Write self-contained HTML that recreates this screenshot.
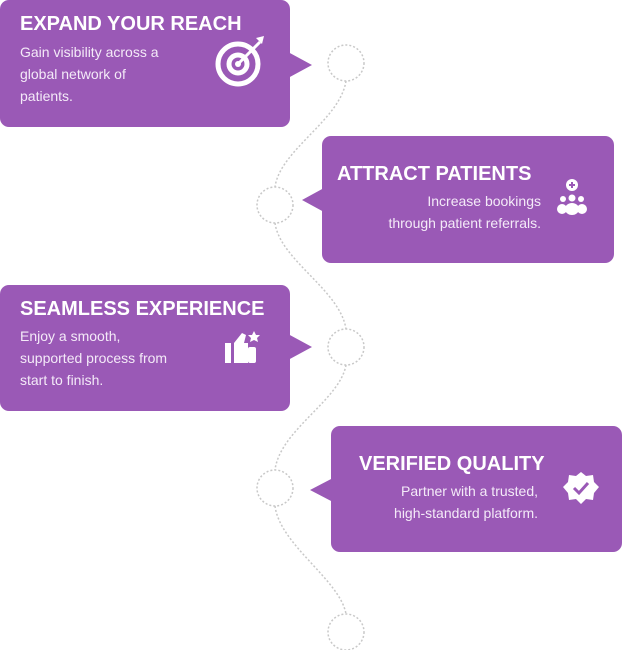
<!DOCTYPE html>
<html><head><style>
body{margin:0;width:622px;height:650px;background:#fff;position:relative;font-family:"Liberation Sans",sans-serif;overflow:hidden}
.b{position:absolute;background:#9a59b6;border-radius:9px;color:#fff}
.t{position:absolute;font-weight:bold;font-size:20px;white-space:nowrap}
.d{position:absolute;font-size:14px;line-height:22px;color:#f4eaf8;white-space:nowrap}
svg{position:absolute;left:0;top:0}
</style></head><body>
<svg width="622" height="650">
<g fill="none" stroke="#c8c8c8" stroke-width="1.5" stroke-dasharray="2 2">
<path d="M346 81 C340 120 280 150 275 187"/>
<path d="M275 223 C280 260 340 290 346 329"/>
<path d="M346 365 C340 400 280 430 275 470"/>
<path d="M275 506 C280 545 340 580 346 614"/>
<circle cx="346" cy="63" r="18"/><circle cx="275" cy="205" r="18"/>
<circle cx="346" cy="347" r="18"/><circle cx="275" cy="488" r="18"/>
<circle cx="346" cy="632" r="18"/>
</g>
<g fill="#9a59b6">
<polygon points="288,52 312,65 288,78"/>
<polygon points="324,188 302,200 324,212"/>
<polygon points="288,334 312,347 288,360"/>
<polygon points="333,478 310,490 333,502"/>
</g>
</svg>
<div class="b" style="left:0;top:0;width:290px;height:127px">
<div class="t" style="left:20px;top:13px">EXPAND YOUR REACH</div>
<div class="d" style="left:20px;top:41px">Gain visibility across a<br>global network of<br>patients.</div>
<svg style="left:212px;top:34px" width="56" height="54"><g fill="none" stroke="#fff" stroke-width="5"><circle cx="26" cy="30" r="20"/><circle cx="26" cy="30" r="9"/></g><circle cx="26" cy="30" r="3" fill="#fff"/><path d="M26 30 L48 8" stroke="#fff" stroke-width="3"/><path d="M44 4 L52 2 L50 10 Z" fill="#fff"/></svg>
</div>
<div class="b" style="left:322px;top:136px;width:292px;height:127px">
<div class="t" style="left:15px;top:27px">ATTRACT PATIENTS</div>
<div class="d" style="right:73px;top:54px;text-align:right">Increase bookings<br>through patient referrals.</div>
<svg style="left:230px;top:40px" width="40" height="46"><circle cx="20" cy="9" r="6" fill="#fff"/><path d="M17 9h6M20 6v6" stroke="#9a59b6" stroke-width="2"/><g fill="#fff"><circle cx="11" cy="23" r="3"/><circle cx="20" cy="22" r="3.5"/><circle cx="29" cy="23" r="3"/><ellipse cx="10" cy="33" rx="5" ry="5"/><ellipse cx="30" cy="33" rx="5" ry="5"/><ellipse cx="20" cy="33" rx="7" ry="6"/></g></svg>
</div>
<div class="b" style="left:0;top:285px;width:290px;height:126px">
<div class="t" style="left:20px;top:13px">SEAMLESS EXPERIENCE</div>
<div class="d" style="left:20px;top:40px">Enjoy a smooth,<br>supported process from<br>start to finish.</div>
<svg style="left:222px;top:44px" width="40" height="36"><g fill="#fff"><rect x="3" y="14" width="6" height="20"/><path d="M12 14 L20 4 L24 6 L22 14 L26 14 L26 34 L12 34Z"/><path d="M32 2 l2 4 4 0 -3 3 1 4 -4 -2 -4 2 1 -4 -3 -3 4 0z"/><rect x="26" y="18" width="8" height="16" rx="2"/></g></svg>
</div>
<div class="b" style="left:331px;top:426px;width:291px;height:126px">
<div class="t" style="left:28px;top:27px">VERIFIED QUALITY</div>
<div class="d" style="right:84px;top:54px;text-align:right">Partner with a trusted,<br>high-standard platform.</div>
<svg style="left:230px;top:44px" width="40" height="36"><path d="M20 2 L25 6 L32 5 L33 12 L38 17 L33 23 L32 30 L25 29 L20 34 L15 29 L8 30 L7 23 L2 17 L7 12 L8 5 L15 6Z" fill="#fff"/><path d="M13 18 L18 23 L27 13" fill="none" stroke="#9a59b6" stroke-width="3"/></svg>
</div>
</body></html>
